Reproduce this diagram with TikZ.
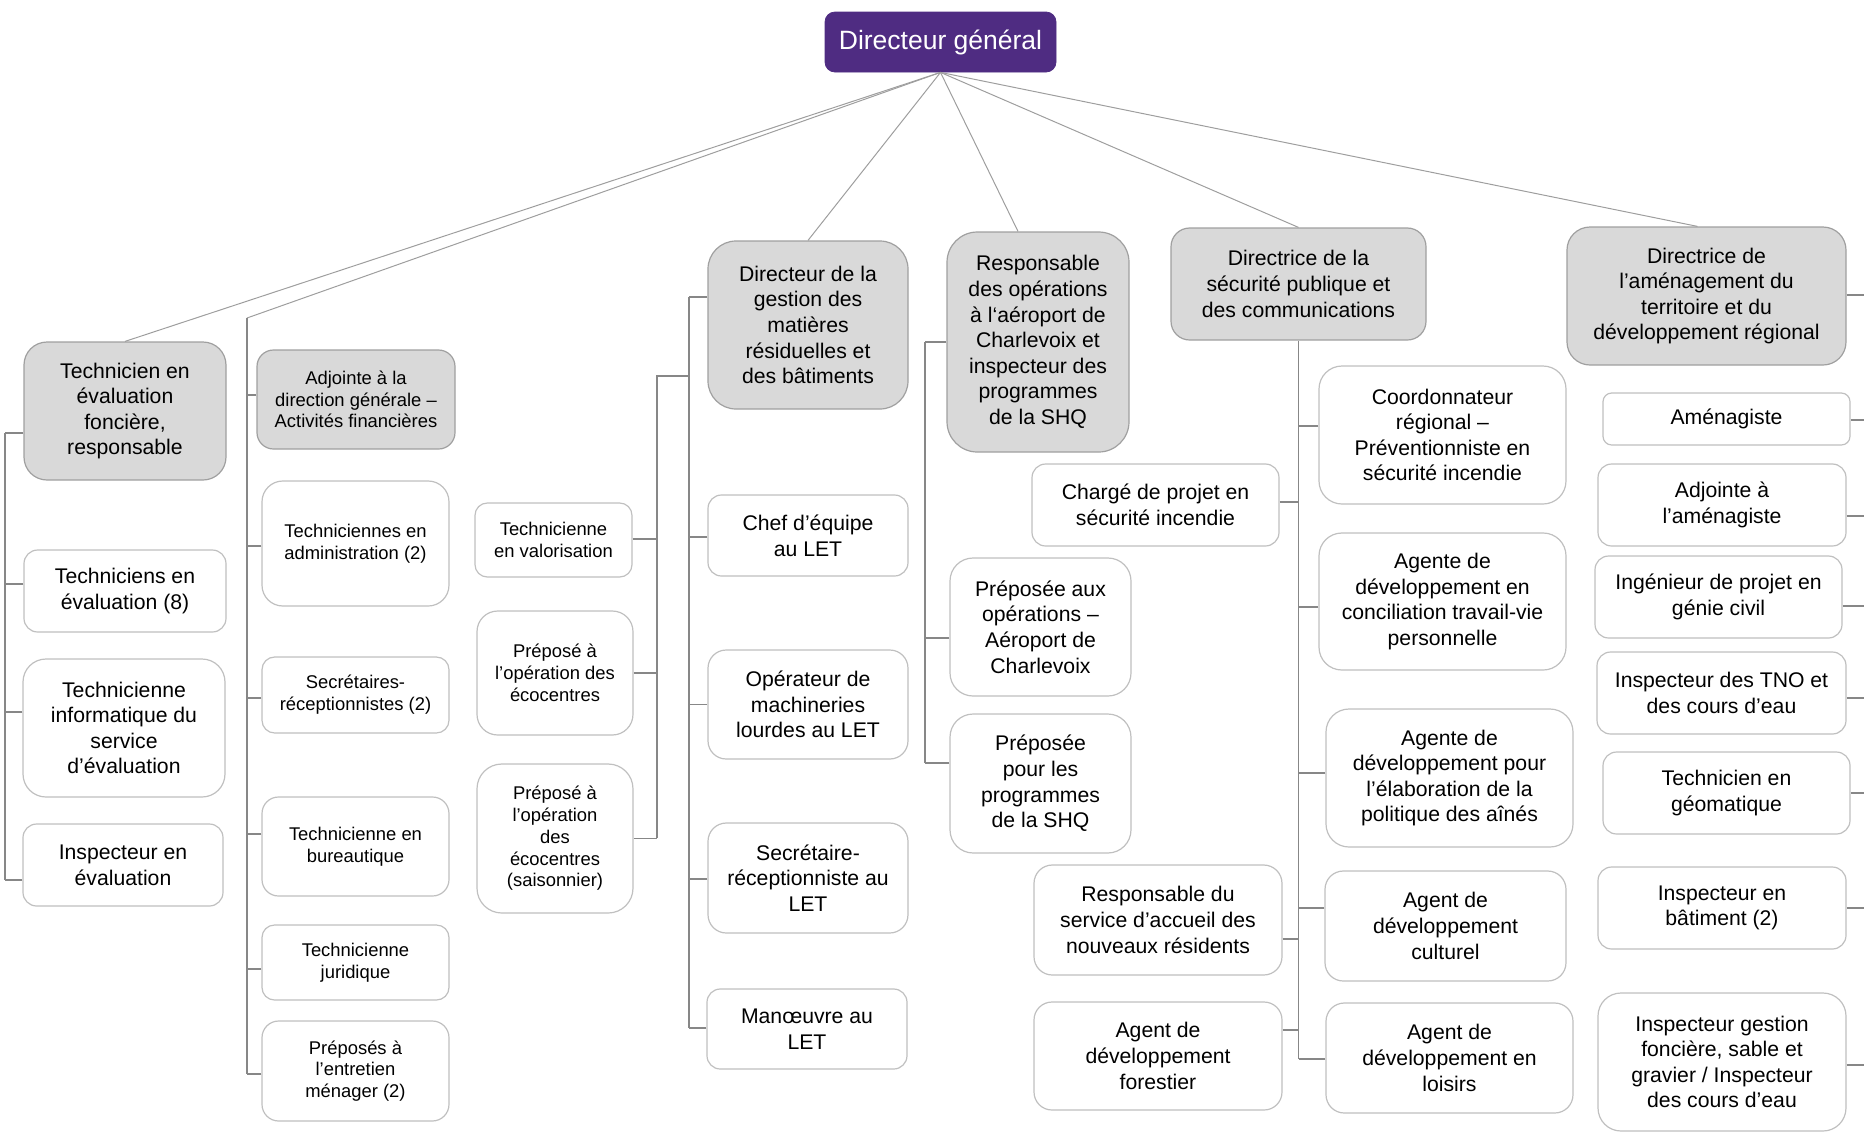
\documentclass[tikz,border=0pt]{standalone}
\usepackage{fontspec}
\setmainfont{Liberation Sans}
\usepackage{xcolor}
\usepackage{tikz}

\definecolor{dgpurple}{RGB}{79,44,130}
\definecolor{mgrgray}{RGB}{217,217,217}
\definecolor{mgrline}{RGB}{160,160,160}
\definecolor{postline}{RGB}{192,192,192}
\definecolor{linkgray}{RGB}{135,135,135}

\newcommand{\orgtxt}{\fontsize{10.6}{12.8}\selectfont}
\newcommand{\orgsmall}{\fontsize{9.2}{10.9}\selectfont}

\begin{document}
\begin{tikzpicture}[
		x=0.5pt, y=-0.5pt,
		% --- ESTILOS ---
		boxdim/.style 2 args={
			minimum width=#1*0.5pt, minimum height=#2*0.5pt, rounded corners={min(#1,#2)/12*1pt}
		},
		dgblock/.style={
			rectangle, draw=dgpurple, fill=dgpurple, text=white, inner sep=1pt,
			align=center, font=\fontsize{13.25}{15}\selectfont
		},
		mgrblock/.style={
			rectangle, draw=mgrline, line width=0.6pt, fill=mgrgray, inner sep=1pt,
			align=center, font=\orgtxt
		},
		mgrsmall/.style={
			mgrblock, font=\orgsmall
		},
		postblock/.style={
			rectangle, draw=postline, line width=0.6pt, fill=white, inner sep=1pt,
			align=center, font=\orgtxt
		},
		postsmall/.style={
			postblock, font=\orgsmall
		},
		toplink/.style={
			draw=black!38, line width=0.5pt
		},
		link/.style={
			draw=linkgray, line width=0.6pt
		}
	]
	\useasboundingbox (0,0) rectangle (1864,1131);
	
	% --- 1. Direccion general ---
	\node [dgblock, boxdim={231}{60}] (dir_gen) at (940.5,42) {Directeur général};
	
	% --- 2. Primer nivel ---
	\node [mgrblock, boxdim={202}{138}] (tec_resp) at (125,411) {Technicien en\\évaluation\\foncière,\\responsable};
	\node [mgrsmall, boxdim={198}{99}] (adj_fin) at (356,399.5) {Adjointe à la\\direction générale –\\Activités financières};
	\node [mgrblock, boxdim={200}{168}] (dir_gmr) at (808,325) {Directeur de la\\gestion des\\matières\\résiduelles et\\des bâtiments};
	\node [mgrblock, boxdim={182}{220}] (resp_aer) at (1038,342) {Responsable\\des opérations\\à l‘aéroport de\\Charlevoix et\\inspecteur des\\programmes\\de la SHQ};
	\node [mgrblock, boxdim={255}{112}] (dir_sec) at (1298.5,284) {Directrice de la\\sécurité publique et\\des communications};
	\node [mgrblock, boxdim={279}{138}] (dir_amt) at (1706.5,296) {Directrice de\\l’aménagement du\\territoire et du\\développement régional};
	
	% el Adjointe cuelga de su propia linea vertical
	\coordinate (trk_b) at (247,318);
	
	\draw [toplink] (dir_gen.south) -- (tec_resp.north);
	\draw [toplink] (dir_gen.south) -- (trk_b);
	\draw [toplink] (dir_gen.south) -- (dir_gmr.north);
	\draw [toplink] (dir_gen.south) -- ([xshift=-10pt]resp_aer.north);
	\draw [toplink] (dir_gen.south) -- (dir_sec.north);
	\draw [toplink] (dir_gen.south) -- ([xshift=-4.5pt]dir_amt.north);
	
	% --- 3. Evaluacion fonciere ---
	\node [postblock, boxdim={202}{82}] (tec_ev8) at (125,591) {Techniciens en\\évaluation (8)};
	\node [postblock, boxdim={202}{138}] (tec_info) at (124,728) {Technicienne\\informatique du\\service\\d’évaluation};
	\node [postblock, boxdim={200}{82}] (insp_ev) at (123,865) {Inspecteur en\\évaluation};
	
	\coordinate (trk_a) at (5,433);
	\coordinate (trk_a_end) at (5,880);
	\draw [link] (trk_a) -- (trk_a_end);
	\foreach \n/\s in {tec_resp/-11, tec_ev8/3.5, tec_info/8, insp_ev/-7.5}
		\draw [link] ([yshift=\s pt]\n.west) -- ([yshift=\s pt]\n.west -| trk_a);
	
	% --- 4. Adjointe a la direction generale ---
	\node [postsmall, boxdim={187}{125}] (tec_adm) at (355.5,543.5) {Techniciennes en\\administration (2)};
	\node [postsmall, boxdim={187}{76}] (sec_rec) at (355.5,695) {Secrétaires-\\réceptionnistes (2)};
	\node [postsmall, boxdim={187}{99}] (tec_bur) at (355.5,846.5) {Technicienne en\\bureautique};
	\node [postsmall, boxdim={187}{75}] (tec_jur) at (355.5,962.5) {Technicienne\\juridique};
	\node [postsmall, boxdim={187}{100}] (prp_men) at (355.5,1071) {Préposés à\\l’entretien\\ménager (2)};
	
	\coordinate (trk_b_end) at (247,1074);
	\draw [link] (trk_b) -- (trk_b_end);
	\foreach \n/\s in {adj_fin/2.25, tec_adm/-1.25, sec_rec/-1.5, tec_bur/6.25, tec_jur/-3.25, prp_men/-1.5}
		\draw [link] ([yshift=\s pt]\n.west) -- ([yshift=\s pt]\n.west -| trk_b);
	
	% --- 5. Matieres residuelles ---
	\node [postblock, boxdim={200}{81}] (chef_eq) at (808,535.5) {Chef d’équipe\\au LET};
	\node [postblock, boxdim={200}{109}] (op_mach) at (808,704.5) {Opérateur de\\machineries\\lourdes au LET};
	\node [postblock, boxdim={200}{110}] (sec_let) at (808,878) {Secrétaire-\\réceptionniste au\\LET};
	\node [postblock, boxdim={200}{80}] (man_let) at (807,1029) {Manœuvre au\\LET};
	\node [postsmall, boxdim={157}{74}] (tec_val) at (553.5,540) {Technicienne\\en valorisation};
	\node [postsmall, boxdim={156}{124}] (prp_eco) at (555,673) {Préposé à\\l’opération des\\écocentres};
	\node [postsmall, boxdim={156}{149}] (prp_sai) at (555,838.5) {Préposé à\\l’opération\\des\\écocentres\\(saisonnier)};
	
	\coordinate (trk_c) at (689,297);
	\coordinate (trk_c_end) at (689,1028);
	\draw [link] (trk_c) -- (trk_c_end);
	\foreach \n/\s in {dir_gmr/14, chef_eq/-0.75, op_mach/0, sec_let/-0.5, man_let/0.5}
		\draw [link] ([yshift=\s pt]\n.west) -- ([yshift=\s pt]\n.west -| trk_c);
	
	% rama secundaria hacia la izquierda (ecocentres)
	\coordinate (trk_d) at (657,376);
	\coordinate (trk_d_end) at (657,838);
	\draw [link] (trk_c |- trk_d) -- (trk_d) -- (trk_d_end);
	\foreach \n/\s in {tec_val/0.5, prp_eco/0, prp_sai/0}
		\draw [link] ([yshift=\s pt]\n.east) -- ([yshift=\s pt]\n.east -| trk_d);
	
	% --- 6. Aeroport de Charlevoix ---
	\node [postblock, boxdim={181}{138}] (prp_aer) at (1040.5,627) {Préposée aux\\opérations –\\Aéroport de\\Charlevoix};
	\node [postblock, boxdim={181}{139}] (prp_shq) at (1040.5,783.5) {Préposée\\pour les\\programmes\\de la SHQ};
	
	\coordinate (trk_e) at (925,342);
	\coordinate (trk_e_end) at (925,763);
	\draw [link] (trk_e) -- (trk_e_end);
	\foreach \n/\s in {resp_aer/0, prp_aer/-5.5, prp_shq/10.25}
		\draw [link] ([yshift=\s pt]\n.west) -- ([yshift=\s pt]\n.west -| trk_e);
	
	% --- 7. Securite publique ---
	\node [postblock, boxdim={247}{138}] (coord) at (1442.5,435) {Coordonnateur\\régional –\\Préventionniste en\\sécurité incendie};
	\node [postblock, boxdim={247}{82}] (ch_proj) at (1155.5,505) {Chargé de projet en\\sécurité incendie};
	\node [postblock, boxdim={247}{137}] (ag_conc) at (1442.5,601.5) {Agente de\\développement en\\conciliation travail-vie\\personnelle};
	\node [postblock, boxdim={247}{138}] (ag_aine) at (1449.5,778) {Agente de\\développement pour\\l’élaboration de la\\politique des aînés};
	\node [postblock, boxdim={248}{110}] (resp_acc) at (1158,920) {Responsable du\\service d’accueil des\\nouveaux résidents};
	\node [postblock, boxdim={241}{110}] (ag_cult) at (1445.5,926) {Agent de\\développement\\culturel};
	\node [postblock, boxdim={248}{108}] (ag_for) at (1158,1056) {Agent de\\développement\\forestier};
	\node [postblock, boxdim={247}{110}] (ag_loi) at (1449.5,1058) {Agent de\\développement en\\loisirs};
	
	\coordinate (trk_f_end) at (1298.5,1059);
	\draw [link] (dir_sec.south) -- (trk_f_end);
	\foreach \n/\s in {coord/4.5, ag_conc/-2.75, ag_aine/2.5, ag_cult/9, ag_loi/-0.5}
		\draw [link] ([yshift=\s pt]\n.west) -- ([yshift=\s pt]\n.west -| trk_f_end);
	\foreach \n/\s in {ch_proj/1.5, resp_acc/-9.5, ag_for/13}
		\draw [link] ([yshift=\s pt]\n.east) -- ([yshift=\s pt]\n.east -| trk_f_end);
	
	% --- 8. Amenagement du territoire ---
	\node [postblock, boxdim={247}{52}] (amen) at (1726.5,419) {Aménagiste};
	\node [postblock, boxdim={248}{82}] (adj_am) at (1722,505) {Adjointe à\\l’aménagiste};
	\node [postblock, boxdim={247}{82}] (ing_civ) at (1718.5,597) {Ingénieur de projet en\\génie civil};
	\node [postblock, boxdim={249}{82}] (insp_tno) at (1721.5,693) {Inspecteur des TNO et\\des cours d’eau};
	\node [postblock, boxdim={247}{82}] (tec_geo) at (1726.5,793) {Technicien en\\géomatique};
	\node [postblock, boxdim={248}{82}] (insp_bat) at (1722,908) {Inspecteur en\\bâtiment (2)};
	\node [postblock, boxdim={248}{138}] (insp_gf) at (1722,1062) {Inspecteur gestion\\foncière, sable et\\gravier / Inspecteur\\des cours d’eau};
	
	% la linea vertical queda fuera de la hoja, a la derecha
	\coordinate (trk_g) at (1880,295);
	\coordinate (trk_g_end) at (1880,1065);
	\draw [link] (trk_g) -- (trk_g_end);
	\foreach \n/\s in {dir_amt/0.5, amen/-0.5, adj_am/-5.5, ing_civ/-4.5, insp_tno/-2.5, tec_geo/0, insp_bat/0, insp_gf/-1.5}
		\draw [link] ([yshift=\s pt]\n.east) -- ([yshift=\s pt]\n.east -| trk_g);
	
\end{tikzpicture}
\end{document}
